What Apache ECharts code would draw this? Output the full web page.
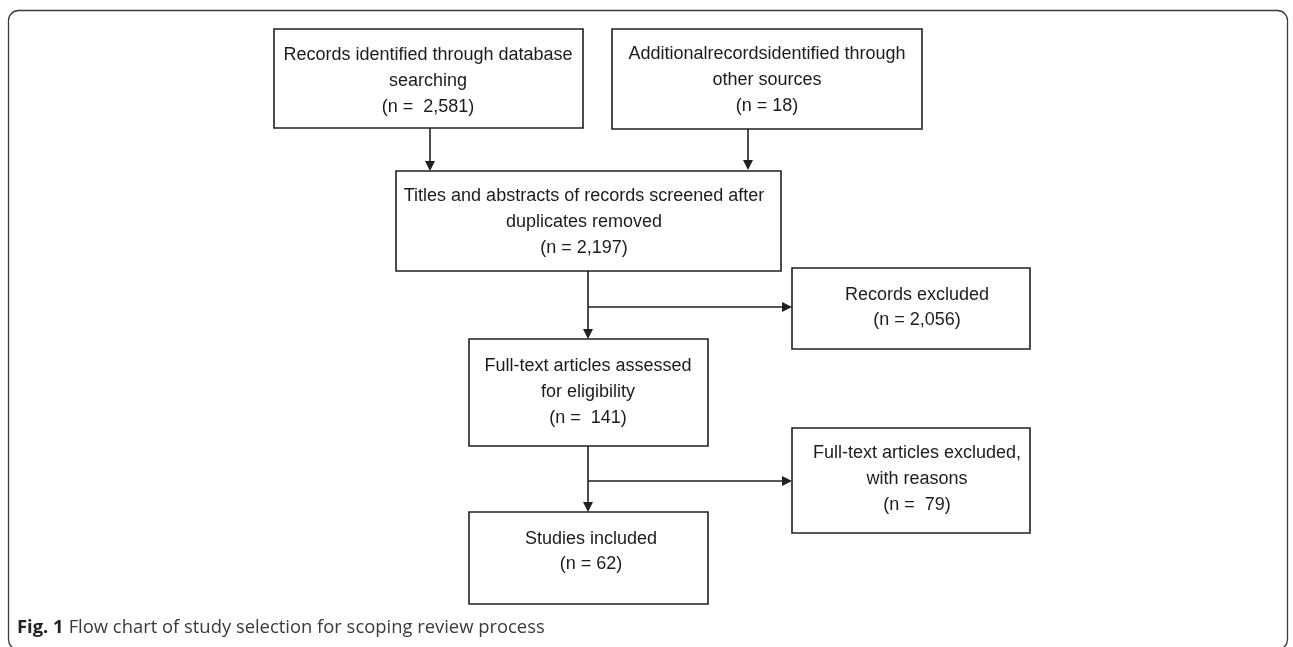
<!DOCTYPE html>
<html>
<head>
<meta charset="utf-8">
<script src="https://cdn.jsdelivr.net/npm/echarts@6/dist/echarts.min.js"></script>
<style>
  html, body { margin: 0; padding: 0; background: #ffffff; }
  #chart { width: 1293px; height: 647px; }
</style>
</head>
<body>
<div id="chart"></div>
<script>
// ---- content (text and counts) ----
const boxTitles = [
  'Records identified through database\nsearching',
  'Additionalrecordsidentified through\nother sources',
  'Titles and abstracts of records screened after\nduplicates removed',
  'Full-text articles assessed\nfor eligibility',
  'Records excluded',
  'Studies included',
  'Full-text articles excluded,\nwith reasons'
];
const boxCounts = ['2,581', '18', '2,197', '141', '2,056', '62', '79'];
const countPrefixes = ['(n =  ', '(n = ', '(n = ', '(n =  ', '(n = ', '(n = ', '(n =  '];
const captionBold = 'Fig. 1';
const captionText = 'Flow chart of study selection for scoping review process';

// ---- layout (pixel space of the hidden axes) ----
const boxRects = [
  [274, 29, 583, 128],
  [612, 29, 922, 129],
  [396, 171, 781, 271],
  [469, 339, 708, 446],
  [792, 268, 1030, 349],
  [469, 512, 708, 604],
  [792, 428, 1030, 533]
];
const textCenters = [
  [428, 81], [767, 80], [584, 222], [588, 392], [917, 308], [591, 551.5], [917, 479]
];
const lineHeights = [26, 26, 26, 26, 25, 25, 26];
const arrows = [
  [430, 128, 430, 171],
  [748, 129, 748, 170],
  [588, 271, 588, 339],
  [588, 307, 792, 307],
  [588, 446, 588, 512],
  [588, 481, 792, 481]
];

const W = 1293, H = 647;
const chart = echarts.init(document.getElementById('chart'), null, { renderer: 'canvas' });

const boxData = boxRects.map((r, i) => [r[0], r[1], r[2], r[3], i]);
const arrowData = arrows.map(a => a.slice());

const FONT = '"Liberation Sans", Arial, Helvetica, sans-serif';
const INK = '#1c1c1c';

function renderBox(params, api) {
  const i = api.value(4);
  const p0 = api.coord([api.value(0), api.value(1)]);
  const p1 = api.coord([api.value(2), api.value(3)]);
  const c = api.coord(textCenters[i]);
  const lines = boxTitles[i].split('\n').concat([countPrefixes[i] + boxCounts[i] + ')']);
  const lh = lineHeights[i];
  const children = [{
    type: 'rect',
    shape: { x: p0[0], y: p0[1], width: p1[0] - p0[0], height: p1[1] - p0[1] },
    style: { fill: '#ffffff', stroke: '#202020', lineWidth: 1.6 }
  }];
  lines.forEach((t, k) => {
    children.push({
      type: 'text',
      style: {
        text: t,
        x: c[0],
        y: c[1] + (k - (lines.length - 1) / 2) * lh,
        align: 'center',
        verticalAlign: 'middle',
        fontSize: 18,
        fontFamily: FONT,
        fill: INK
      }
    });
  });
  return { type: 'group', children: children };
}

function renderArrow(params, api) {
  const a = api.coord([api.value(0), api.value(1)]);
  const b = api.coord([api.value(2), api.value(3)]);
  const dx = b[0] - a[0], dy = b[1] - a[1];
  const len = Math.sqrt(dx * dx + dy * dy);
  const ux = dx / len, uy = dy / len;
  const head = 10, half = 5;
  const bx = b[0] - ux * head, by = b[1] - uy * head;
  return {
    type: 'group',
    children: [
      {
        type: 'line',
        shape: { x1: a[0], y1: a[1], x2: bx, y2: by },
        style: { stroke: '#202020', lineWidth: 1.6 }
      },
      {
        type: 'polygon',
        shape: { points: [[b[0], b[1]], [bx - uy * half, by + ux * half], [bx + uy * half, by - ux * half]] },
        style: { fill: '#202020' }
      }
    ]
  };
}

chart.setOption({
  animation: false,
  backgroundColor: '#ffffff',
  grid: { left: 0, right: 0, top: 0, bottom: 0 },
  xAxis: { type: 'value', min: 0, max: W, show: false },
  yAxis: { type: 'value', min: 0, max: H, inverse: true, show: false },
  title: {
    left: 17,
    top: 619,
    padding: 0,
    text: '{b|' + captionBold + '} {r|' + captionText + '}',
    textStyle: {
      fontWeight: 'normal',
      rich: {
        b: { fontWeight: 'bold', fontSize: 18.4, fontFamily: '"Open Sans", sans-serif', color: '#222222' },
        r: { fontWeight: 'normal', fontSize: 18.4, fontFamily: '"Open Sans", sans-serif', color: '#3a3a3a' }
      }
    }
  },
  graphic: [{
    type: 'rect',
    shape: { x: 8.5, y: 10.5, width: 1279, height: 639, r: 10 },
    style: { fill: 'none', stroke: '#3a3a3a', lineWidth: 1.3 },
    silent: true,
    z: -1
  }],
  series: [
    {
      type: 'custom',
      coordinateSystem: 'cartesian2d',
      renderItem: renderArrow,
      data: arrowData,
      silent: true,
      z: 1
    },
    {
      type: 'custom',
      coordinateSystem: 'cartesian2d',
      renderItem: renderBox,
      data: boxData,
      silent: true,
      z: 2
    }
  ]
});
</script>
</body>
</html>
